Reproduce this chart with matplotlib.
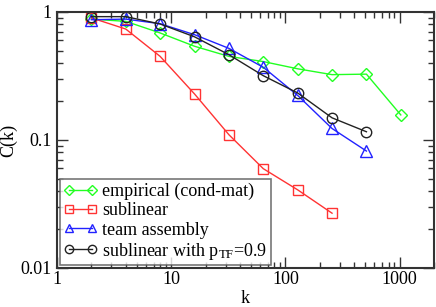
import matplotlib
matplotlib.use("Agg")
import matplotlib.pyplot as plt
from matplotlib.ticker import LogLocator, NullFormatter, FixedLocator, FixedFormatter

k_vals = [2, 4, 8, 16, 32, 64, 128, 256, 512, 1024]
empirical = [0.88, 0.845, 0.686, 0.54, 0.45, 0.41, 0.36, 0.324, 0.327, 0.157]
sublinear = [0.90, 0.736, 0.45, 0.229, 0.11, 0.0597, 0.0408, 0.0268]
team = [0.87, 0.88, 0.81, 0.665, 0.52, 0.37, 0.223, 0.123, 0.082]
sub_ptf = [0.92, 0.92, 0.806, 0.64, 0.464, 0.318, 0.233, 0.149, 0.116]

labels = ["empirical (cond-mat)", "sublinear", "team assembly",
          r"sublinear with p$_{\mathrm{TF}}$=0.9"]

plt.rcParams['font.family'] = ['Liberation Serif', 'DejaVu Serif']
plt.rcParams['mathtext.fontset'] = 'custom'
plt.rcParams['mathtext.rm'] = 'Liberation Serif'
plt.rcParams['mathtext.it'] = 'Liberation Serif'

fig = plt.figure(figsize=(4.36, 3.07), dpi=100)
ax = fig.add_axes([57/436, 1-268/307, (434-57)/436, (268-12)/307])

ax.plot(k_vals[:len(empirical)], empirical, color='#22ff22', marker='D', ms=6.5,
        mfc='none', mew=1, lw=1, label=labels[0])
ax.plot(k_vals[:len(sublinear)], sublinear, color='#ff3333', marker='s', ms=7,
        mfc='none', mew=1, lw=1, label=labels[1])
ax.plot(k_vals[:len(team)], team, color='#2222ff', marker='^', ms=8,
        mfc='none', mew=1, lw=1, label=labels[2])
ax.plot(k_vals[:len(sub_ptf)], sub_ptf, color='#222222', marker='o', ms=7.5,
        mfc='none', mew=1, lw=1, label=labels[3])

ax.set_xscale('log')
ax.set_yscale('log')
ax.set_xlim(1, 2000)
ax.set_ylim(0.01, 1)

ax.xaxis.set_major_locator(FixedLocator([1, 10, 100, 1000]))
ax.xaxis.set_major_formatter(FixedFormatter(['1', '10', '100', '1000']))
ax.yaxis.set_major_locator(FixedLocator([0.01, 0.1, 1]))
ax.yaxis.set_major_formatter(FixedFormatter(['0.01', '0.1', '1']))
ax.xaxis.set_minor_locator(LogLocator(base=10, subs=range(2, 10)))
ax.yaxis.set_minor_locator(LogLocator(base=10, subs=range(2, 10)))
ax.xaxis.set_minor_formatter(NullFormatter())
ax.yaxis.set_minor_formatter(NullFormatter())

ax.tick_params(which='both', direction='in', top=True, right=True,
               labelsize=13, color='#333333')
ax.tick_params(axis='x', pad=2)
ax.tick_params(axis='y', pad=4)
ax.tick_params(which='major', length=8, width=1)
ax.tick_params(which='minor', length=4, width=1)
for s in ax.spines.values():
    s.set_linewidth(1.5)
    s.set_color('#333333')

ax.set_xlabel('k', fontsize=13, labelpad=1.5)
ax.set_ylabel('C(k)', fontsize=13, labelpad=2)

leg = ax.legend(loc='lower left', fontsize=13, frameon=True, fancybox=False,
                edgecolor='#555555', borderpad=0.2, labelspacing=0.12,
                handlelength=1.9, handletextpad=0.25, borderaxespad=0.15,
                numpoints=2, markerscale=0.8)
leg.get_frame().set_linewidth(1.2)

fig.savefig('out.png', dpi=100)
